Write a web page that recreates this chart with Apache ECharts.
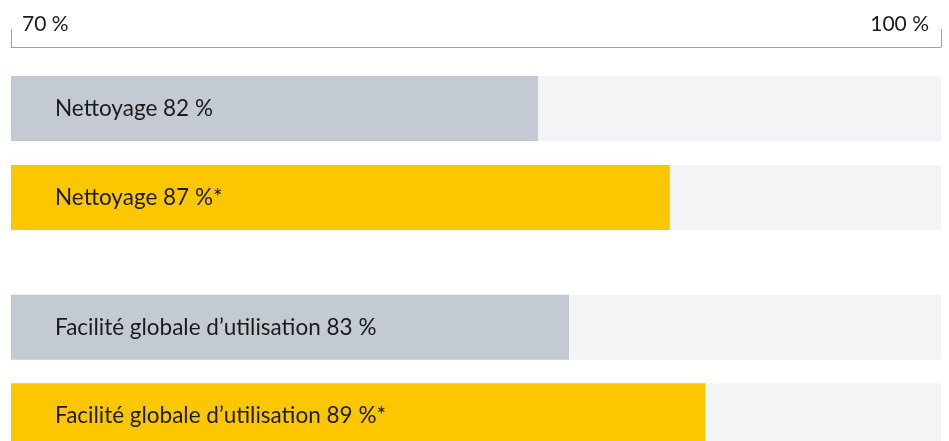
<!DOCTYPE html>
<html>
<head>
<meta charset="utf-8">
<script src="https://cdn.jsdelivr.net/npm/echarts@6/dist/echarts.min.js"></script>
<style>
  html, body { margin: 0; padding: 0; background: #fff; }
  #chart { width: 949px; height: 441px; }
</style>
</head>
<body>
<div id="chart"></div>
<script>
// labels shown inside the bars
var labelsTop = ['Nettoyage', 'Nettoyage'];
var labelsBottom = ['Facilité globale d’utilisation', 'Facilité globale d’utilisation'];
// scores printed in the labels
var scoresTop = [82, 87];
var scoresBottom = [83, 89];
var starred = [false, true];
var lengthsTop = [87.0, 91.25];
var lengthsBottom = [88.0, 92.4];
var axisTicks = [70, 100];

var colors = ['#c4cad1', '#fdc700'];
var font = 'Lato, "Noto Sans", sans-serif';

function makeData(lengths, scores, names) {
  var out = [];
  for (var i = 0; i < lengths.length; i++) {
    out.push({
      value: lengths[i],
      name: names[i] + ' ' + scores[i] + ' %' + (starred[i] ? '*' : ''),
      itemStyle: { color: colors[i] }
    });
  }
  return out;
}

var myChart = echarts.init(document.getElementById('chart'));

var barLabel = {
  show: true,
  position: 'insideLeft',
  distance: 44,
  formatter: '{b}',
  color: '#1b1b1b',
  fontSize: 22.5,
  fontFamily: font
};

var option = {
  animation: false,
  grid: [
    { left: 11, right: 8, top: 64, height: 178, outerBoundsMode: 'none' },
    { left: 11, right: 8, top: 283, height: 177, outerBoundsMode: 'none' }
  ],
  xAxis: [
    {
      gridIndex: 0,
      type: 'value',
      position: 'top',
      offset: 17,
      min: axisTicks[0],
      max: axisTicks[1],
      interval: axisTicks[1] - axisTicks[0],
      splitLine: { show: false },
      axisLine: { show: true, lineStyle: { color: '#9ea3a8', width: 1 } },
      axisTick: { show: true, length: 18, lineStyle: { color: '#9ea3a8' } },
      axisLabel: {
        margin: 12,
        alignMinLabel: 'left',
        alignMaxLabel: 'right',
        formatter: function (v) {
          return v === axisTicks[0] ? '{l|' + v + ' %}' : '{r|' + v + ' %}';
        },
        rich: {
          l: { padding: [0, 0, 0, 11], fontSize: 21, color: '#1b1b1b', fontFamily: font },
          r: { padding: [0, 12, 0, 0], fontSize: 21, color: '#1b1b1b', fontFamily: font }
        }
      }
    },
    {
      gridIndex: 1,
      type: 'value',
      min: axisTicks[0],
      max: axisTicks[1],
      show: false
    }
  ],
  yAxis: [
    { gridIndex: 0, type: 'category', inverse: true, data: labelsTop, show: false },
    { gridIndex: 1, type: 'category', inverse: true, data: labelsBottom, show: false }
  ],
  series: [
    {
      type: 'bar',
      xAxisIndex: 0,
      yAxisIndex: 0,
      barWidth: 65,
      showBackground: true,
      backgroundStyle: { color: '#f3f4f6' },
      label: barLabel,
      data: makeData(lengthsTop, scoresTop, labelsTop)
    },
    {
      type: 'bar',
      xAxisIndex: 1,
      yAxisIndex: 1,
      barWidth: 65,
      showBackground: true,
      backgroundStyle: { color: '#f3f4f6' },
      label: barLabel,
      data: makeData(lengthsBottom, scoresBottom, labelsBottom)
    }
  ]
};

myChart.setOption(option);
</script>
</body>
</html>
